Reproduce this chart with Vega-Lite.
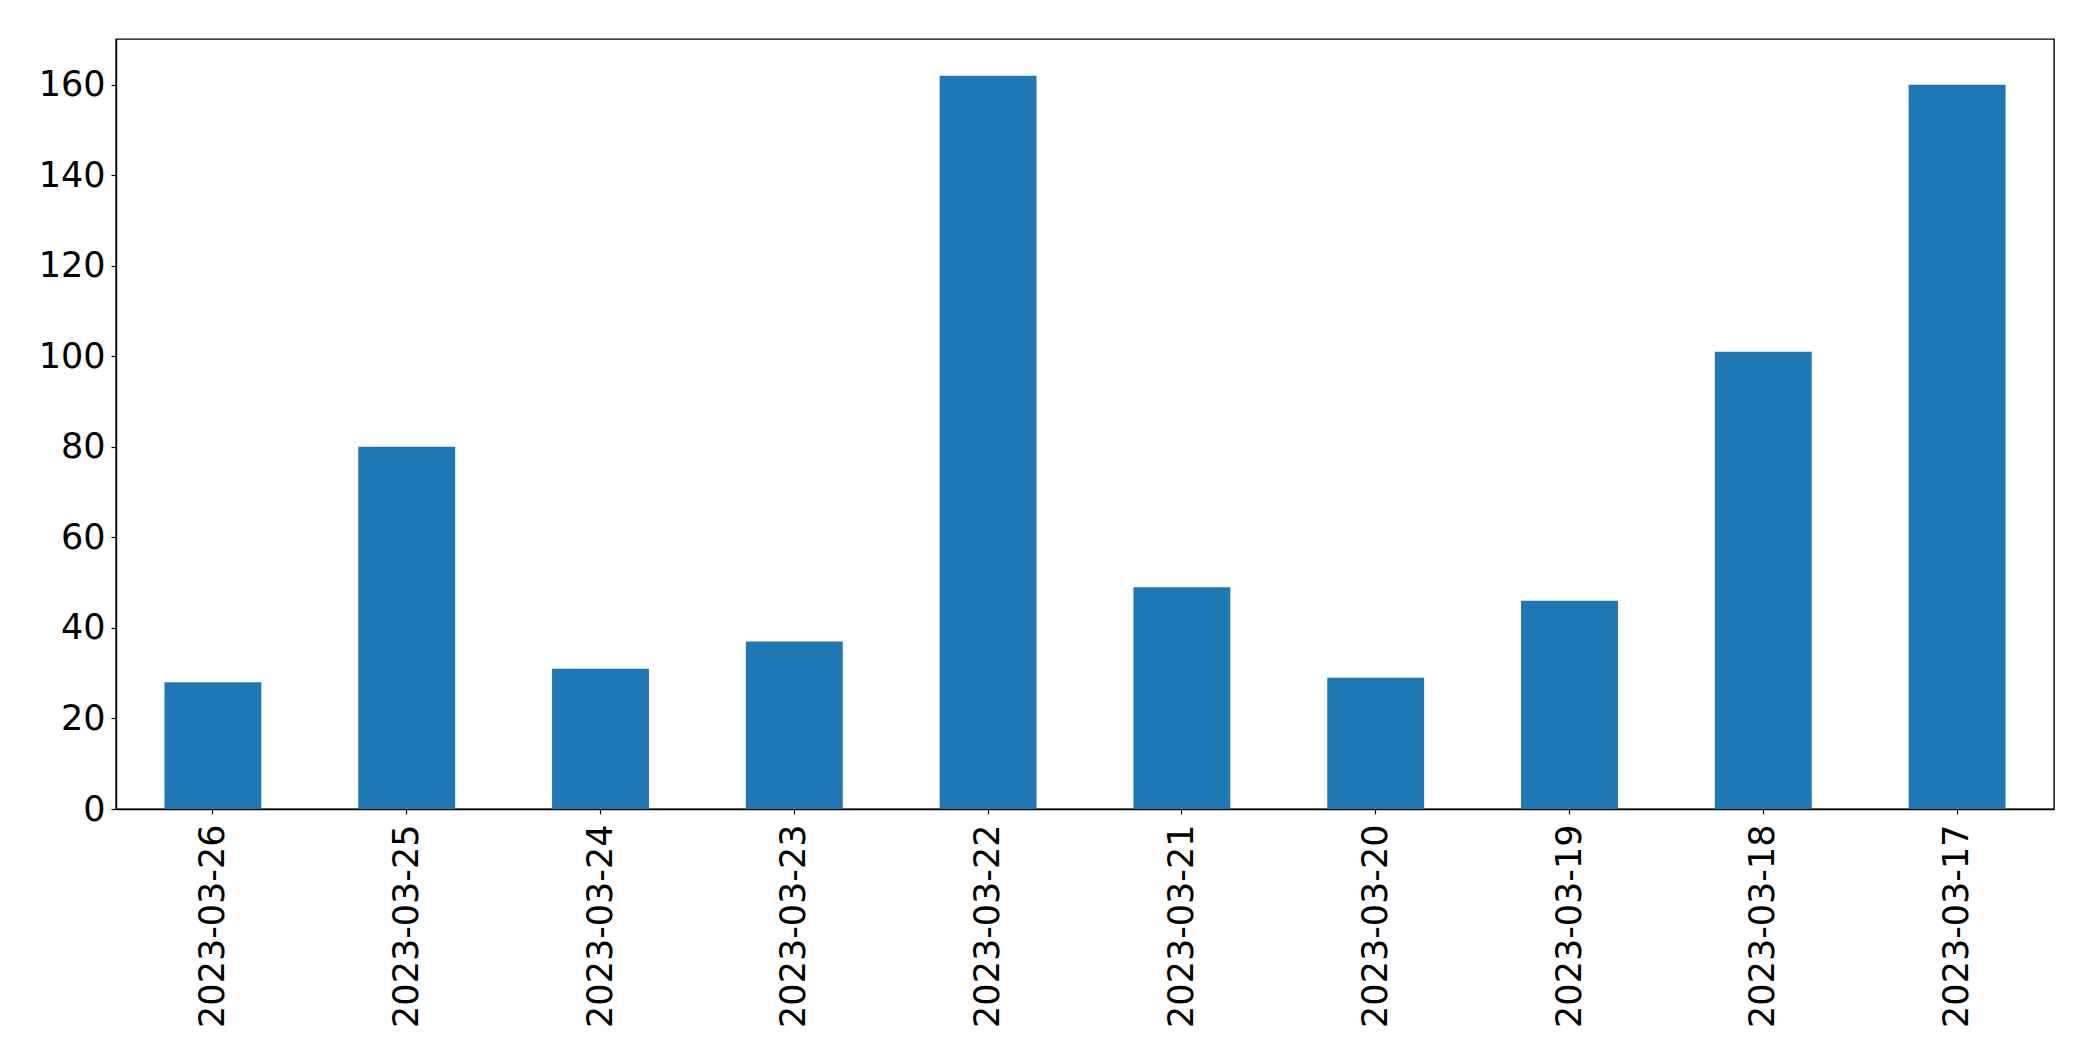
{
  "$schema": "https://vega.github.io/schema/vega-lite/v6.json",
  "autosize": {"type": "none"},
  "padding": {"left": 116, "top": 39, "right": 39, "bottom": 252},
  "width": 1938,
  "height": 770,
  "background": "white",
  "data": {"values": [
    {"date": "2023-03-26", "count": 28},
    {"date": "2023-03-25", "count": 80},
    {"date": "2023-03-24", "count": 31},
    {"date": "2023-03-23", "count": 37},
    {"date": "2023-03-22", "count": 162},
    {"date": "2023-03-21", "count": 49},
    {"date": "2023-03-20", "count": 29},
    {"date": "2023-03-19", "count": 46},
    {"date": "2023-03-18", "count": 101},
    {"date": "2023-03-17", "count": 160}
  ]},
  "mark": {"type": "bar", "color": "#1f77b4"},
  "encoding": {
    "x": {
      "field": "date", "type": "nominal", "sort": null,
      "scale": {"paddingInner": 0.5, "paddingOuter": 0.25},
      "axis": {"title": null, "labelAngle": -90, "labelLimit": 0, "labelFontSize": 35, "labelFont": "DejaVu Sans", "labelColor": "black", "tickColor": "black", "tickSize": 5, "tickWidth": 1.2, "domainColor": "black", "domainWidth": 1.4, "labelPadding": 10, "grid": false}
    },
    "y": {
      "field": "count", "type": "quantitative",
      "scale": {"domain": [0, 170.1], "nice": false},
      "axis": {"title": null, "values": [0, 20, 40, 60, 80, 100, 120, 140, 160], "labelFontSize": 35, "labelFont": "DejaVu Sans", "labelColor": "black", "tickColor": "black", "tickSize": 5, "tickWidth": 1.2, "domainColor": "black", "domainWidth": 1.4, "labelPadding": 6, "grid": false}
    }
  },
  "config": {"view": {"stroke": "black", "strokeWidth": 1.4}}
}
